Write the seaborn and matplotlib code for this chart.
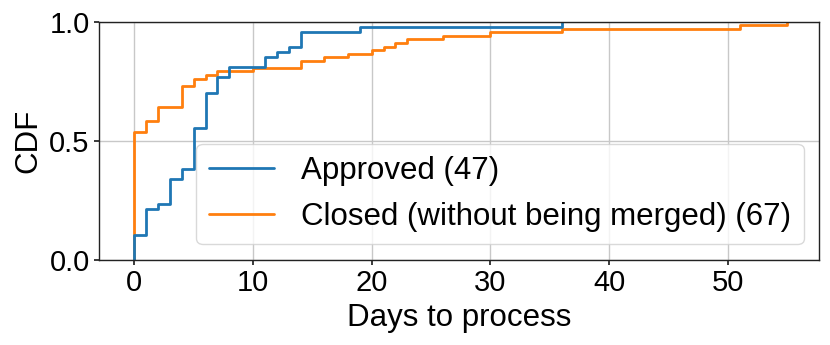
import numpy as np
import pandas as pd
import matplotlib
matplotlib.use("Agg")
import matplotlib.pyplot as plt
import seaborn as sns

approved_days = [0, 1, 2, 3, 4, 5, 6, 7, 8, 11, 12, 13, 14, 19, 36]
approved_counts = [5, 5, 1, 5, 2, 8, 7, 3, 2, 2, 1, 1, 3, 1, 1]

closed_days = [0, 1, 2, 4, 5, 6, 7, 10, 14, 16, 18, 20, 21, 22, 23, 26, 30, 36, 51, 55]
closed_counts = [36, 3, 4, 6, 2, 1, 1, 1, 2, 1, 1, 1, 1, 1, 1, 1, 1, 1, 1, 1]

approved = np.repeat(approved_days, approved_counts)
closed = np.repeat(closed_days, closed_counts)

approved_label = f"Approved ({len(approved)})"
closed_label = f"Closed (without being merged) ({len(closed)})"

df = pd.concat([
    pd.DataFrame({"days": approved, "status": approved_label}),
    pd.DataFrame({"days": closed, "status": closed_label}),
], ignore_index=True)

sns.set_theme(style="whitegrid")
plt.rcParams['font.family'] = ['Liberation Sans', 'DejaVu Sans']
plt.rcParams.update({
    "text.color": "black",
    "axes.labelcolor": "black",
    "axes.edgecolor": "#222222",
    "axes.linewidth": 1.0,
    "grid.color": "#c8c8c8",
    "grid.linewidth": 1.0,
    "xtick.bottom": True,
    "ytick.left": True,
    "xtick.major.size": 3.5,
    "ytick.major.size": 3.5,
    "xtick.color": "#222222",
    "ytick.color": "#222222",
    "xtick.labelcolor": "black",
    "ytick.labelcolor": "black",
})

fig = plt.figure(figsize=(8.3, 3.45), dpi=100)
ax = fig.add_axes([0.1189, 0.2464, 0.8682, 0.6907])

sns.ecdfplot(data=df, x="days", hue="status",
             palette=["#1f77b4", "#ff7f0e"], linewidth=2.0, ax=ax)

ax.set_xlim(-3.0, 57.7)
ax.set_ylim(0, 1)
ax.set_xticks([0, 10, 20, 30, 40, 50])
ax.set_yticks([0.0, 0.5, 1.0])
ax.set_yticklabels(["0.0", "0.5", "1.0"])
ax.tick_params(labelsize=21, pad=3)
ax.set_xlabel("Days to process", fontsize=22.5, labelpad=4)
ax.set_ylabel("CDF", fontsize=22.5, labelpad=4)

leg = ax.get_legend()
handles = leg.legend_handles
labels = [t.get_text() for t in leg.get_texts()]
leg.remove()
ax.legend(handles, labels, loc="lower right", fontsize=22.5,
          handlelength=2.1, handletextpad=0.85, framealpha=0.8,
          edgecolor="#d0d0d0", title=None)

for s in ax.spines.values():
    s.set_visible(True)

fig.savefig("out.png", dpi=100)
